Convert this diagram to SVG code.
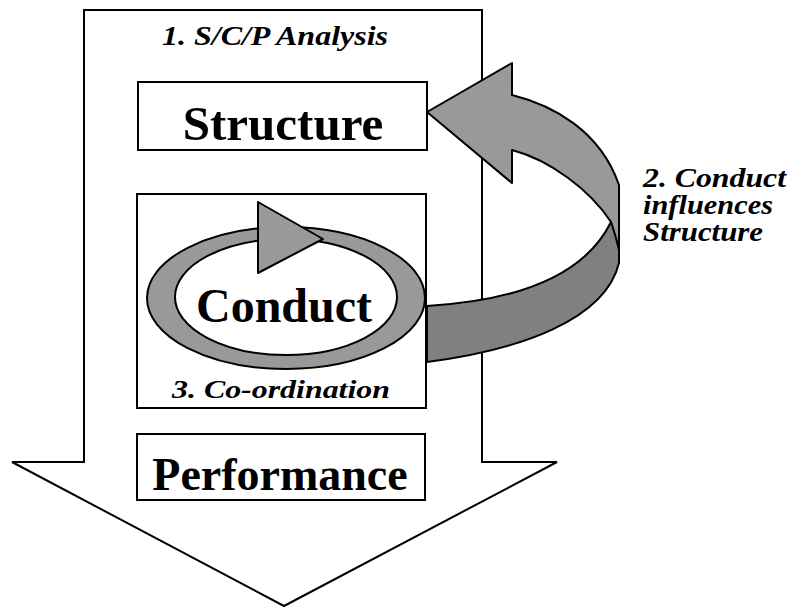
<svg xmlns="http://www.w3.org/2000/svg" width="790" height="608" viewBox="0 0 790 608">
<style>
.box{fill:#fff;stroke:#000;stroke-width:2}
.light{fill:#999;stroke:#000;stroke-width:2;stroke-linejoin:round}
.dark{fill:#808080;stroke:#000;stroke-width:2;stroke-linejoin:round}
.big{font-family:"Liberation Serif","Times New Roman",serif;font-weight:bold;text-anchor:middle}
.lbl{font-family:"Liberation Serif","Times New Roman",serif;font-weight:bold;font-style:italic}
</style>
<rect width="790" height="608" fill="#fff"/>
<g id="scp-arrow">
<polygon class="box" points="84,10 482,10 482,462 557,462 284,606 12,462 84,462"/>
<text class="lbl" x="162" y="45" font-size="28" textLength="226" lengthAdjust="spacingAndGlyphs">1. S/C/P Analysis</text>
</g>
<g id="structure">
<rect class="box" x="138" y="82" width="289" height="68"/>
<text class="big" x="283" y="140" font-size="49">Structure</text>
</g>
<g id="conduct">
<rect class="box" x="137" y="194" width="289" height="214"/>
<path class="light" fill-rule="evenodd" d="M147,298 A139,71 0 1 0 425,298 A139,71 0 1 0 147,298 Z M175,297 A111,58 0 1 0 397,297 A111,58 0 1 0 175,297 Z"/>
<polygon class="light" points="258,202 258,273 323,239"/>
<text class="big" x="284" y="322" font-size="48">Conduct</text>
<text class="lbl" x="172" y="398" font-size="26" textLength="218" lengthAdjust="spacingAndGlyphs">3. Co-ordination</text>
</g>
<g id="performance">
<rect class="box" x="137" y="434" width="288" height="66"/>
<text class="big" x="280" y="490" font-size="46">Performance</text>
</g>
<g id="connectors">
<path class="light" d="M427,112 L512,63 L512,95 C552,105 600,130 619,185 L619,250 L611,222 C590,190 550,160 512,150 L512,183 Z"/>
<path class="dark" d="M611,222 L616,238 L619,250 L619,263 C605,320 520,350 427,362 L427,306 C495,302 580,285 611,222 Z"/>
</g>
<g id="influence-label">
<text class="lbl" font-size="27" x="643" y="187" textLength="143" lengthAdjust="spacingAndGlyphs">2. Conduct</text>
<text class="lbl" font-size="27" x="643" y="214" textLength="130" lengthAdjust="spacingAndGlyphs">influences</text>
<text class="lbl" font-size="27" x="643" y="241" textLength="120" lengthAdjust="spacingAndGlyphs">Structure</text>
</g>
</svg>
